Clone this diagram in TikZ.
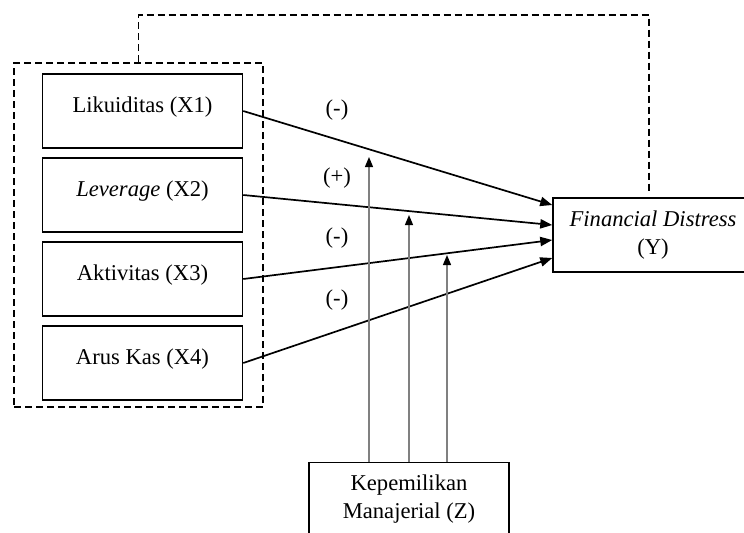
\documentclass[tikz,border=0pt]{standalone}
\usepackage{fontspec}
\setmainfont{Liberation Serif}
\usetikzlibrary{arrows.meta}
\newcommand{\diagfont}{\fontsize{11.3pt}{14pt}\selectfont}
\tikzset{
  bx/.style={rectangle, draw=black, line width=0.75pt, fill=white, minimum width=100pt,
             minimum height=37pt, inner sep=0pt, align=center, font=\diagfont},
  xb/.style={bx, text height=7.8pt, text depth=6.3pt},                      % variable box
  yb/.style={bx, minimum width=116pt},                                      % outcome box, runs off the page
  grp/.style={rectangle, draw=black, line width=0.8pt, dash pattern=on 3.5pt off 2pt,
              minimum width=124.5pt, minimum height=172pt, inner sep=0pt},  % dashed group
  ae/.style={draw=black, line width=0.85pt, -{Triangle[length=6pt,width=4.6pt]}},   % main arrow
  me/.style={draw=black!50, line width=0.6pt, -{Triangle[length=5pt,width=4pt,black]}}, % moderator arrow
  dl/.style={draw=black, line width=0.8pt, dash pattern=on 3.5pt off 2pt},  % dashed link
  sg/.style={font=\diagfont, inner sep=1pt},                                % sign label
}
\begin{document}
\begin{tikzpicture}[x=0.5pt, y=-0.5pt]
  \useasboundingbox (0,0) rectangle (744,532);
  \node[grp] (G) at (138.5,235) {};
  \node[xb] (X1) at (142.5,111) {Likuiditas (X1)};
  \node[xb] (X2) at (142.5,195) {\textit{Leverage} (X2)};
  \node[xb] (X3) at (142.5,279) {Aktivitas (X3)};
  \node[xb] (X4) at (142.5,363) {Arus Kas (X4)};
  \node[yb] (Y) at (669,235) {\textit{Financial Distress}\hspace*{16pt}\\(Y)\hspace*{16pt}};
  \node[bx] (Z) at (409,499.5) {Kepemilikan\\Manajerial (Z)};
  \foreach \s/\dy in {X1/15pt, X2/5pt, X3/-2.5pt, X4/-11.5pt}
    \draw[ae] (\s.east) -- ([yshift=\dy]Y.west);
  \coordinate (m1) at (369,157);
  \coordinate (m2) at (409,215);
  \coordinate (m3) at (447,255);
  \foreach \m in {m1,m2,m3} \draw[me] (Z.north -| \m) -- (\m);
  \draw[dl] (G.north) -- ++(0,-47) -| ([xshift=-10pt,yshift=3pt]Y.north);
  \node[sg] (s1) at (337,110) {(-)};
  \node[sg] (s2) at (337,178) {(+)};
  \node[sg] (s3) at (337,238) {(-)};
  \node[sg] (s4) at (337,300) {(-)};
\end{tikzpicture}
\end{document}
